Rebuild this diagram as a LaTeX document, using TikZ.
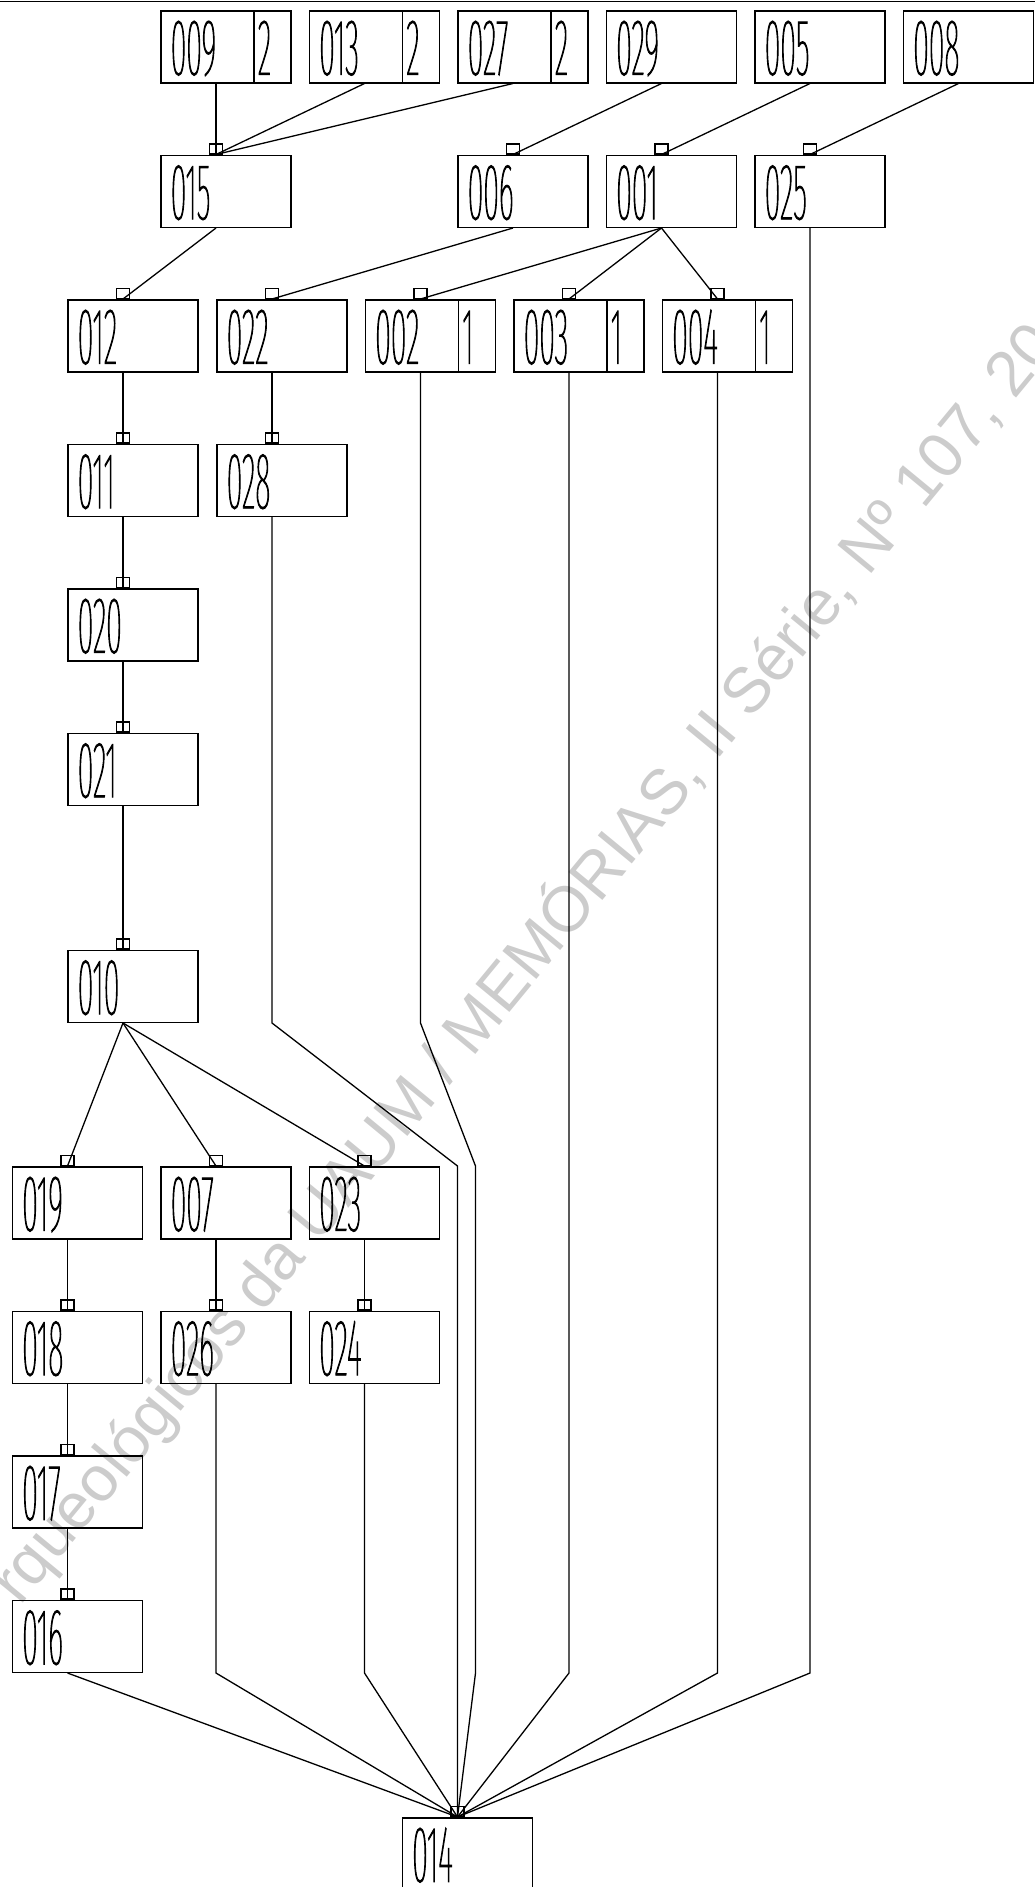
\documentclass[tikz,border=0pt]{standalone}
\usepackage{fontspec}
\usepackage{tikz}
\usetikzlibrary{positioning,calc}
\newfontfamily\wmfont{Liberation Sans}
\newcommand\cadsize{\fontsize{76pt}{76pt}\selectfont}
\IfFontExistsTF{Fira Sans Thin}
  {\newfontfamily\cadfont{Fira Sans Thin}[FakeStretch=0.36, FakeBold=1.2]%
   \renewcommand\cadsize{\fontsize{80pt}{80pt}\selectfont}}
  {\IfFontExistsTF{DejaVu Sans ExtraLight}
    {\newfontfamily\cadfont{DejaVu Sans ExtraLight}[FakeStretch=0.33, FakeBold=1.2]}
    {\newfontfamily\cadfont{DejaVu Sans Condensed}[FakeStretch=0.33]}}

\begin{document}
\begin{tikzpicture}[
    x=1pt, y=-1pt,
    uebox/.style={draw, line width=1.5pt, anchor=north west, minimum width=130pt,
      minimum height=72pt, inner xsep=10pt, inner ysep=0pt, text width=110pt,
      text height=56pt, text depth=0pt, align=left, font={\cadfont\cadsize}},
    count/.style={draw, line width=1.5pt, anchor=north east, minimum width=37pt,
      minimum height=72pt, inner xsep=4pt, inner ysep=0pt, text width=29pt,
      text height=56pt, text depth=0pt, align=left, font={\cadfont\cadsize}},
    port/.style={draw, line width=1.1pt, anchor=south, minimum width=13pt,
      minimum height=10pt, inner sep=0pt},
    link/.style={line width=1.3pt, line join=miter},
    wm/.style={inner sep=0pt, text=black!20, font={\wmfont\fontsize{64pt}{64pt}\selectfont}}
  ]
  \useasboundingbox (0,0) rectangle (1035,1887);
  \clip (0,0) rectangle (1035,1887);

  % watermark
  \node[wm, rotate=50.5, anchor=base west] (wm) at (20,1607)
    {rqueológicos da UAUM / MEMÓRIAS, II Série, Nº 107, 20};

  \draw[line width=1.8pt] (0,1.5) -- (1035,1.5);

  % units
  \foreach \n/\x/\y in {009/160/10, 013/308.5/10, 027/457/10, 029/605.5/10, 005/754/10, 008/902.5/10,
      015/160/154.5, 006/457/154.5, 001/605.5/154.5, 025/754/154.5,
      012/67/299, 022/216/299, 002/364.5/299, 003/513/299, 004/661.5/299,
      011/67/443.5, 028/216/443.5, 020/67/588, 021/67/732.5, 010/67/949.5,
      019/11.5/1166, 007/160/1166, 023/308.5/1166,
      018/11.5/1310.5, 026/160/1310.5, 024/308.5/1310.5,
      017/11.5/1455, 016/11.5/1599.5, 014/401.5/1817} {
    \node[uebox] (u\n) at (\x,\y) {\n};
    \coordinate (o\n) at ([xshift=56pt]u\n.south west);
  }

  % counts
  \foreach \n/\c in {009/2, 013/2, 027/2, 002/1, 003/1, 004/1}
    \node[count] (c\n) at (u\n.north east) {\c};

  % ports
  \foreach \n in {015,006,001,025,012,022,002,003,004,011,028,020,021,010,
      019,007,023,018,026,024,017,016,014}
    \node[port] (p\n) at ([xshift=56pt]u\n.north west) {};

  % links
  \foreach \a/\b in {009/015, 013/015, 027/015, 029/006, 005/001, 008/025,
      015/012, 006/022, 001/002, 001/003, 001/004, 012/011, 022/028,
      011/020, 020/021, 021/010, 010/019, 010/007, 010/023,
      019/018, 018/017, 017/016, 007/026, 023/024}
    \draw[link] (o\a) -- (p\b.south);

  \draw[link] (o016) -- (p014.south);
  \foreach \a in {026,024,003,004,025}
    \draw[link] (o\a) -- (o\a |- u016.south) -- (p014.south);
  \draw[link] (o028) -- (o028 |- u010.south) -- (p014 |- u019.north) -- (p014.south);
  \draw[link] (o002) -- (o002 |- u010.south) -- ([xshift=18pt]p014 |- u019.north)
    -- ([xshift=18pt]p014 |- u016.south) -- (p014.south);
\end{tikzpicture}
\end{document}
